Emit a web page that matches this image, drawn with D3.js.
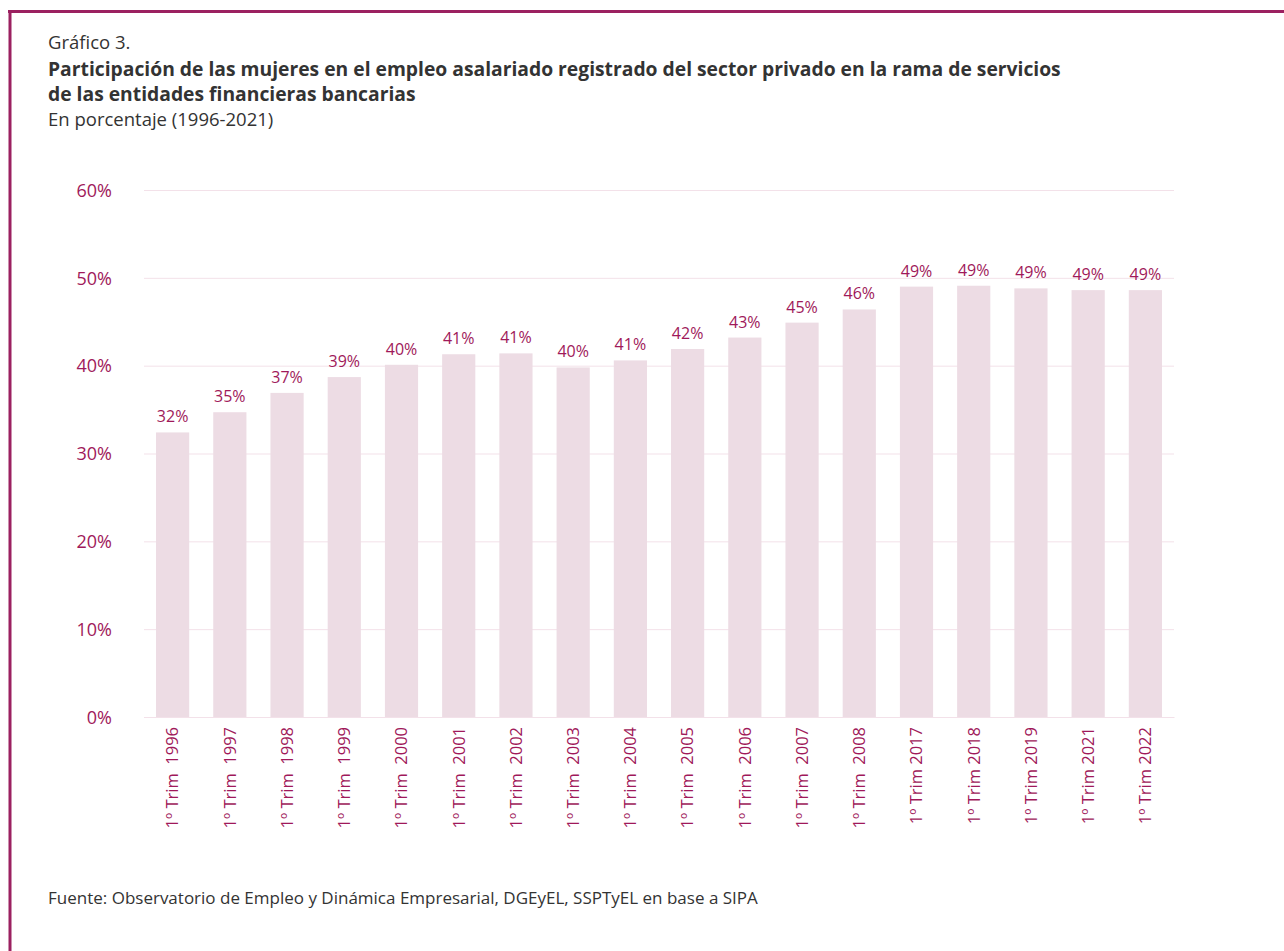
<!DOCTYPE html>
<html lang="es">
<head>
<meta charset="UTF-8" />
<title>Gráfico 3</title>
<script src="https://cdn.jsdelivr.net/npm/d3@7"></script>
<style>
  body { margin: 0; background: #fff; }
  svg { display: block; font-family: "Open Sans", "Noto Sans", sans-serif; }
  text { white-space: pre; }
</style>
</head>
<body>
<svg width="1284" height="951"></svg>
<script>
// datos
const categories = ["1º Trim  1996", "1º Trim  1997", "1º Trim  1998", "1º Trim  1999", "1º Trim  2000",
  "1º Trim  2001", "1º Trim  2002", "1º Trim  2003", "1º Trim  2004", "1º Trim  2005", "1º Trim  2006",
  "1º Trim  2007", "1º Trim  2008", "1º Trim 2017", "1º Trim 2018", "1º Trim 2019", "1º Trim 2021",
  "1º Trim 2022"];
const values = [32.4, 34.7, 36.9, 38.7, 40.1, 41.3, 41.4, 39.8, 40.6, 41.9, 43.2, 44.9, 46.4,
  49.0, 49.1, 48.8, 48.6, 48.6];
const yTicks = [0, 10, 20, 30, 40, 50, 60];

const magenta = "#a0195a";
const svg = d3.select("svg");

// marco (solo arriba e izquierda)
svg.append("line").attr("x1", 8).attr("x2", 1284).attr("y1", 11.5).attr("y2", 11.5)
  .attr("stroke", "#9b2160").attr("stroke-width", 3);
svg.append("line").attr("x1", 10).attr("x2", 10).attr("y1", 10).attr("y2", 951)
  .attr("stroke", "#9b2160").attr("stroke-width", 3);

// titulos
const head = svg.append("g").attr("fill", "#333").attr("font-size", 18.5);
head.append("text").attr("x", 48).attr("y", 49).text("Gráfico 3.");
head.append("text").attr("x", 48).attr("y", 76).attr("font-weight", "bold")
  .attr("font-size", 19.3)
  .text("Participación de las mujeres en el empleo asalariado registrado del sector privado en la rama de servicios");
head.append("text").attr("x", 48).attr("y", 101).attr("font-weight", "bold")
  .attr("font-size", 19.3)
  .text("de las entidades financieras bancarias");
head.append("text").attr("x", 48).attr("y", 126).text("En porcentaje (1996-2021)");

svg.append("text").attr("x", 48).attr("y", 904).attr("fill", "#333").attr("font-size", 17)
  .text("Fuente: Observatorio de Empleo y Dinámica Empresarial, DGEyEL, SSPTyEL en base a SIPA");

// escalas
const x = d3.scaleBand().domain(categories).range([144, 1174]).paddingInner(0.42).paddingOuter(0.21);
const y = d3.scaleLinear().domain([0, 60]).range([717, 190]);

// grilla
svg.append("g").selectAll("line").data(yTicks).join("line")
  .attr("x1", 144).attr("x2", 1174)
  .attr("y1", d => y(d) + 0.5).attr("y2", d => y(d) + 0.5)
  .attr("stroke", "#f3e1e9").attr("stroke-width", 1);

// eje y
const yAxis = svg.append("g").attr("transform", "translate(112,0)")
  .call(d3.axisLeft(y).tickValues(yTicks).tickFormat(d => d + "%").tickSize(0).tickPadding(0))
  .attr("font-family", null).attr("font-size", null);
yAxis.select(".domain").remove();
yAxis.selectAll("text").attr("fill", magenta).attr("font-size", 18).attr("dy", "0.35em");

// barras
svg.append("g").selectAll("rect").data(values).join("rect")
  .attr("x", (d, i) => x(categories[i]))
  .attr("width", x.bandwidth())
  .attr("y", d => y(d))
  .attr("height", d => y(0) - y(d))
  .attr("fill", "#eddce4");

// etiquetas de valor
svg.append("g").selectAll("text").data(values).join("text")
  .attr("x", (d, i) => x(categories[i]) + x.bandwidth() / 2)
  .attr("y", d => y(d) - 10)
  .attr("text-anchor", "middle")
  .attr("fill", magenta).attr("font-size", 16)
  .text(d => Math.round(d) + "%");

// eje x
const xAxis = svg.append("g").attr("transform", "translate(0,717)")
  .call(d3.axisBottom(x).tickSize(0).tickPadding(0))
  .attr("font-family", null).attr("font-size", null);
xAxis.select(".domain").attr("stroke", "#f3e1e9");
xAxis.selectAll("text")
  .attr("fill", magenta).attr("font-size", 16.5)
  .attr("transform", "rotate(-90)")
  .attr("text-anchor", "end")
  .attr("x", -10).attr("y", 0).attr("dy", "0.35em");
</script>
</body>
</html>
